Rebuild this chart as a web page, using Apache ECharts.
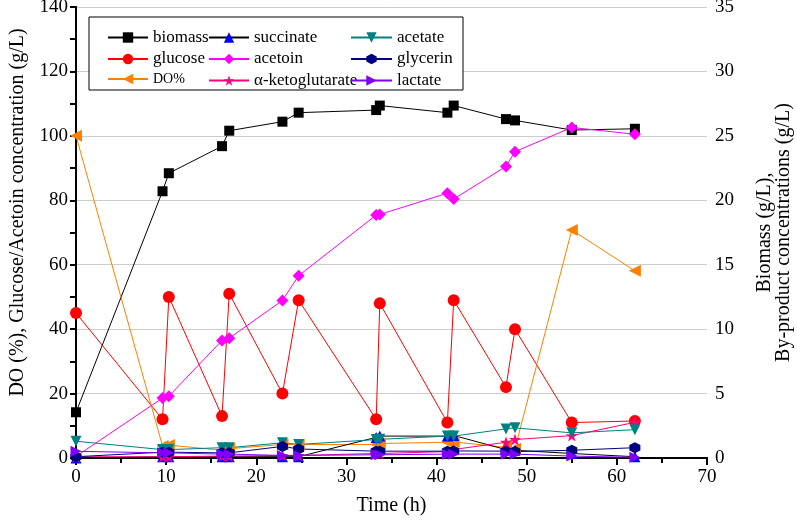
<!DOCTYPE html>
<html>
<head>
<meta charset="utf-8">
<script src="https://cdn.jsdelivr.net/npm/echarts@6/dist/echarts.min.js"></script>
<style>
  html, body { margin: 0; padding: 0; background: #fff; }
  #chart { width: 797px; height: 523px; }
</style>
</head>
<body>
<div id="chart"></div>
<script>
// sampling times (h)
const times = [0, 9.6, 10.3, 16.2, 17.0, 22.9, 24.7, 33.3, 33.7, 41.2, 41.9, 47.7, 48.7, 55, 62];

// left axis: DO (%), glucose / acetoin (g/L)
const glucose = [45, 12, 50, 13, 51, 20, 49, 12, 48, 11, 49, 22, 40, 11, 11.5];
const acetoin = [0.5, 18.6, 19.2, 36.5, 37.2, 48.9, 56.6, 75.4, 75.6, 82.2, 80.4, 90.5, 95.1, 102.6, 100.5];
const doPct = [100, 3.7, 4.0, 2.4, 2.9, 4.2, 4.2, 4.2, 4.5, 4.9, 5.0, 3.3, 2.9, 70.8, 58.1];

// right axis: biomass and by-products (g/L)
const biomass = [3.55, 20.7, 22.1, 24.2, 25.4, 26.1, 26.8, 27.0, 27.35, 26.8, 27.35, 26.3, 26.2, 25.45, 25.55];
const succinate = [0, 0.1, 0.1, 0.1, 0.1, 0.1, 0.1, 1.6, 1.7, 1.7, 1.75, 0.65, 0.6, 0.35, 0.1];
const acetate = [1.3, 0.65, 0.65, 0.8, 0.8, 1.18, 1.05, 1.43, 1.45, 1.7, 1.7, 2.26, 2.34, 1.95, 2.2];
const glycerin = [0.1, 0.45, 0.45, 0.4, 0.4, 0.9, 0.7, 0.53, 0.53, 0.53, 0.55, 0.53, 0.5, 0.6, 0.8];
const akg = [0.1, 0.1, 0.1, 0.15, 0.15, 0.2, 0.2, 0.35, 0.35, 0.5, 0.66, 1.22, 1.43, 1.74, 2.77];
const lactate = [0.52, 0.4, 0.4, 0.3, 0.3, 0.2, 0.2, 0.25, 0.25, 0.3, 0.3, 0.3, 0.3, 0.15, 0.05];

const xTicks = [0, 10, 20, 30, 40, 50, 60, 70];

const FONT = 'Liberation Serif';
const pairs = arr => times.map((t, i) => [t, arr[i]]);

const triDown = 'path://M0,0 L10,0 L5,10 Z';
const triLeft = 'path://M10,0 L10,10 L0,5 Z';
const triRight = 'path://M0,0 L10,5 L0,10 Z';
const star = 'path://M5,0 L6.2,3.6 L10,3.6 L6.9,5.9 L8.1,9.5 L5,7.3 L1.9,9.5 L3.1,5.9 L0,3.6 L3.8,3.6 Z';
const hexagon = 'path://M5,0 L9.3,2.5 L9.3,7.5 L5,10 L0.7,7.5 L0.7,2.5 Z';

function mk(name, data, yIdx, symbol, size, lineColor, dotColor) {
  return {
    name: name,
    type: 'line',
    yAxisIndex: yIdx,
    data: pairs(data),
    symbol: symbol,
    symbolSize: size,
    showAllSymbol: true,
    lineStyle: { color: lineColor, width: 1 },
    itemStyle: { color: dotColor },
    emphasis: { disabled: true }
  };
}

const chart = echarts.init(document.getElementById('chart'));

const legendBase = {
  orient: 'vertical',
  top: 29,
  padding: 0,
  itemHeight: 13,
  itemGap: 4.5,
  selectedMode: false,
  z: 60,
  // DO% is set smaller in the original legend
  formatter: name => name === 'DO%' ? '{s|DO%}' : name,
  textStyle: {
    fontFamily: FONT, fontSize: 17, color: '#000',
    rich: { s: { fontFamily: FONT, fontSize: 14, color: '#000' } }
  }
};

const tickStyle = { color: '#000', width: 2 };

chart.setOption({
  animation: false,
  backgroundColor: '#fff',
  grid: { left: 76, right: 90, top: 7, bottom: 65, outerBoundsMode: 'none' },
  graphic: [{
    type: 'rect',
    shape: { x: 89, y: 17, width: 374, height: 73 },
    style: { fill: '#fff', stroke: '#000', lineWidth: 1 },
    z: 50
  }],
  legend: [
    Object.assign({}, legendBase, { left: 107, itemWidth: 40, data: ['biomass', 'glucose', 'DO%'] }),
    Object.assign({}, legendBase, { left: 208, itemWidth: 40, data: ['succinate', 'acetoin', 'α-ketoglutarate'] }),
    Object.assign({}, legendBase, { left: 350, itemWidth: 41, data: ['acetate', 'glycerin', 'lactate'] })
  ],
  xAxis: [{
    type: 'value',
    min: 0,
    max: 70,
    interval: 10,
    name: 'Time (h)',
    nameLocation: 'middle',
    nameGap: 38,
    nameTextStyle: { fontFamily: FONT, fontSize: 20, color: '#000' },
    axisLine: { lineStyle: { color: '#000', width: 2 } },
    axisTick: { show: true, inside: false, length: 7, lineStyle: tickStyle },
    minorTick: { show: true, splitNumber: 2, length: 5, lineStyle: tickStyle },
    axisLabel: {
      fontFamily: FONT, fontSize: 19, color: '#000', margin: 10,
      formatter: v => xTicks.includes(v) ? String(v) : ''
    },
    splitLine: { show: false }
  }, {
    type: 'value',
    position: 'top',
    min: 0,
    max: 70,
    axisLine: { show: true, lineStyle: { color: '#000', width: 2 } },
    axisTick: { show: false },
    axisLabel: { show: false },
    splitLine: { show: false }
  }],
  yAxis: [{
    type: 'value',
    position: 'left',
    min: 0,
    max: 140,
    interval: 20,
    name: 'DO (%), Glucose/Acetoin concentration (g/L)',
    nameLocation: 'middle',
    nameGap: 48,
    nameRotate: 90,
    nameTextStyle: { fontFamily: FONT, fontSize: 20, color: '#000', padding: [0, 0, 0, 40] },
    axisLine: { show: true, lineStyle: { color: '#000', width: 2 } },
    axisTick: { show: true, inside: false, length: 6, lineStyle: tickStyle },
    minorTick: { show: true, splitNumber: 2, length: 6, lineStyle: tickStyle },
    axisLabel: { fontFamily: FONT, fontSize: 19, color: '#000', margin: 8 },
    splitLine: { show: false }
  }, {
    type: 'value',
    position: 'right',
    min: 0,
    max: 35,
    interval: 5,
    name: 'Biomass (g/L),\nBy-product concentrations (g/L)',
    nameLocation: 'middle',
    nameGap: 48,
    nameRotate: 90,
    nameTextStyle: { fontFamily: FONT, fontSize: 20, color: '#000', lineHeight: 19 },
    axisLine: { show: true, lineStyle: { color: '#000', width: 2 } },
    axisTick: { show: true, inside: true, length: 6, lineStyle: tickStyle },
    minorTick: { show: true, splitNumber: 2, length: 6, lineStyle: tickStyle },
    axisLabel: { fontFamily: FONT, fontSize: 19, color: '#000', margin: 8 },
    splitLine: { show: true, lineStyle: { color: '#cccccc', width: 1 } }
  }],
  series: [
    mk('biomass', biomass, 1, 'rect', 10, '#000', '#000'),
    mk('glucose', glucose, 0, 'circle', 12, '#ff0000', '#ff0000'),
    mk('DO%', doPct, 0, triLeft, 12, '#ff8000', '#ff8000'),
    mk('succinate', succinate, 1, 'triangle', 11, '#000', '#0000ff'),
    mk('acetoin', acetoin, 0, 'diamond', 12, '#ff00ff', '#ff00ff'),
    mk('α-ketoglutarate', akg, 1, star, 12, '#ff0080', '#ff0080'),
    mk('acetate', acetate, 1, triDown, 11, '#008080', '#008080'),
    mk('glycerin', glycerin, 1, hexagon, 11, '#000080', '#000080'),
    mk('lactate', lactate, 1, triRight, 11, '#8000ff', '#8000ff')
  ]
});
</script>
</body>
</html>
